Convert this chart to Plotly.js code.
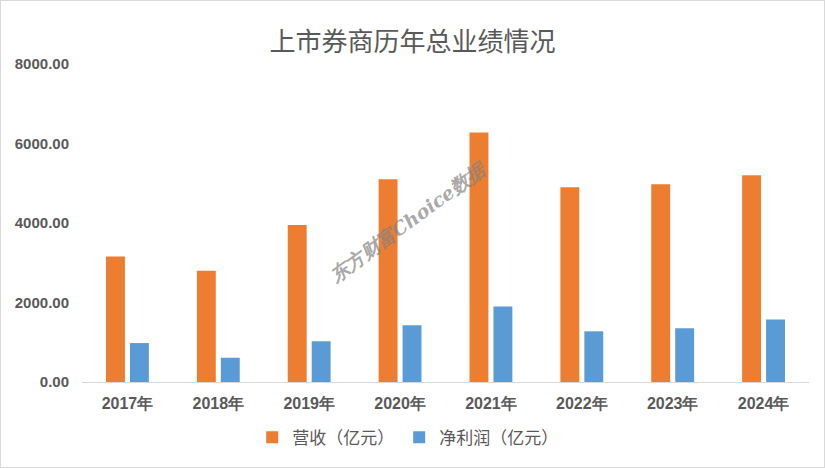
<!DOCTYPE html>
<html>
<head>
<meta charset="utf-8">
<script src="https://cdn.plot.ly/plotly-3.0.1.min.js"></script>
<style>
html,body{margin:0;padding:0;background:#fff;}
#wrap{position:relative;width:825px;height:468px;}
#chart{width:825px;height:468px;}
#border{position:absolute;left:0;top:0;width:825px;height:468px;box-sizing:border-box;border:1px solid #d9d9d9;pointer-events:none;}
</style>
</head>
<body>
<div id="wrap"><div id="chart"></div><div id="border"></div></div>
<script>
const years = ['2017年','2018年','2019年','2020年','2021年','2022年','2023年','2024年'];
const revenue = [3160, 2800, 3950, 5100, 6275, 4900, 4975, 5200];
const netProfit = [980, 610, 1025, 1425, 1900, 1275, 1350, 1575];
const yTicks = [0, 2000, 4000, 6000, 8000];

const txt = '#595959';
const traces = [
  {type:'bar', name:'营收（亿元）', x:years, y:revenue, marker:{color:'#ED7D31'}},
  {type:'bar', name:'净利润（亿元）', x:years, y:netProfit, marker:{color:'#5B9BD5'}}
];
const layout = {
  width:825, height:468,
  margin:{l:82, r:16, t:64, b:84},
  paper_bgcolor:'#fff', plot_bgcolor:'#fff',
  barmode:'group', bargap:0.473, bargroupgap:0.21,
  title:{text:'上市券商历年总业绩情况', x:0.5, xref:'container', xanchor:'center', y:0.91, yanchor:'middle',
    font:{family:'Noto Sans CJK SC', size:26, color:txt}},
  xaxis:{showgrid:false, showline:true, linecolor:'#d9d9d9', linewidth:1, ticks:'', zeroline:false,
    tickfont:{family:'Liberation Sans', size:16, color:txt, weight:'bold'}, ticklabelstandoff:7},
  yaxis:{range:[0,8000], tickvals:yTicks, tickformat:'.2f', showgrid:false, showline:false, zeroline:false, ticks:'',
    tickfont:{family:'Liberation Sans', size:15, color:txt, weight:'bold'}, ticklabelstandoff:12},
  showlegend:true,
  legend:{orientation:'h', x:0.448, xanchor:'center', y:-0.175, yanchor:'middle',
    font:{family:'Noto Sans CJK SC', size:17, color:txt}, itemwidth:30, traceorder:'normal'},
  annotations:[{xref:'paper', yref:'paper', x:0.448, y:0.503, text:'东方财富Choice数据', showarrow:false,
    textangle:-36, font:{family:'DejaVu Serif', size:19, color:'rgba(130,130,130,0.7)', weight:'bold', style:'italic'}}]
};
Plotly.newPlot('chart', traces, layout, {displayModeBar:false, staticPlot:true});
</script>
</body>
</html>
